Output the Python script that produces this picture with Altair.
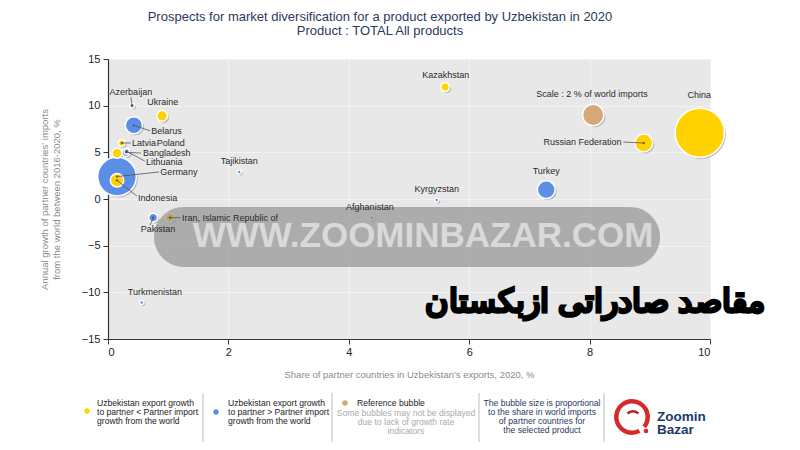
import altair as alt
import pandas as pd

# ---------------- data ----------------
countries = ["China", "Germany", "Russian Federation", "Turkey", "Belarus", "Indonesia",
             "Kazakhstan", "Ukraine", "Poland", "Pakistan", "Iran, Islamic Republic of",
             "Latvia", "Bangladesh", "Lithuania", "Azerbaijan", "Tajikistan", "Kyrgyzstan",
             "Afghanistan", "Turkmenistan", "Scale : 2 % of world imports"]
export_share = [9.83, 0.15, 8.9, 7.28, 0.43, 0.15, 5.6, 0.9, 0.15, 0.75, 1.03,
                0.23, 0.3, 0.31, 0.4, 2.18, 5.46, 4.38, 0.56, 8.06]
import_growth = [7.1, 2.4, 6.0, 1.0, 7.9, 2.0, 12.0, 8.9, 4.9, -2.0, -2.0,
                 6.0, 5.0, 5.1, 10.0, 2.9, -0.1, -2.0, -11.1, 9.0]
world_share = [10.7, 6.6, 1.4, 1.4, 1.3, 0.8, 0.35, 0.5, 0.45, 0.35, 0.35,
               0.2, 0.3, 0.12, 0.1, 0.07, 0.07, 0.07, 0.07, 2.0]
group = ["lt", "gt", "lt", "gt", "gt", "lt", "lt", "lt", "lt", "gt", "lt",
         "lt", "gt", "gt", "gt", "gt", "gt", "gt", "gt", "ref"]
label_x = [9.82, 0.87, 8.53, 7.28, 0.72, 0.5, 5.61, 0.91, 0.81, 0.83, 1.23,
           0.40, 0.58, 0.63, 0.38, 2.18, 5.46, 4.35, 0.78, 8.04]
label_y = [11.1, 2.9, 6.1, 3.0, 7.3, 0.1, 13.3, 10.4, 6.0, -3.2, -2.0,
           6.0, 4.93, 3.96, 11.5, 4.07, 1.07, -0.86, -9.96, 11.25]
label_align = ["center", "left", "right", "center", "left", "left", "center", "center",
               "left", "center", "left", "left", "left", "left", "center", "center",
               "center", "center", "center", "center"]
lead_x = [None, 0.85, 8.56, None, 0.70, 0.48, None, None, None, 0.70, 1.20,
          0.38, 0.55, 0.61, 0.38, None, None, None, None, None]
lead_y = [None, 2.9, 6.1, None, 7.3, 0.32, None, None, None, -2.8, -2.0,
          6.0, 4.93, 4.07, 10.9, None, None, None, None, None]

x_ticks = [0, 2, 4, 6, 8, 10]
y_ticks = [-15, -10, -5, 0, 5, 10, 15]

df = pd.DataFrame({
    "country": countries, "x": export_share, "y": import_growth, "s": world_share,
    "g": group, "lx": label_x, "ly": label_y, "align": label_align,
    "ex": lead_x, "ey": lead_y,
})

FONT = "Liberation Sans"
YELLOW, BLUE, TAN = "#FFD200", "#5B8FE6", "#D6A878"
NAVY = "#1F3864"

xs = alt.Scale(domain=[0, 10], nice=False)
ys = alt.Scale(domain=[-15, 15], nice=False)
size_scale = alt.Scale(type="linear", domain=[0, 12], range=[0, 2714])
color_scale = alt.Scale(domain=["lt", "gt", "ref"], range=[YELLOW, BLUE, TAN])

base = alt.Chart(df)

xenc = alt.X("x:Q", scale=xs, axis=alt.Axis(
    values=x_ticks, format="d",
    title="Share of partner countries in Uzbekistan's exports, 2020, %", grid=True))
yenc = alt.Y("y:Q", scale=ys, axis=alt.Axis(
    values=y_ticks, format="d",
    title=["Annual growth of partner countries' imports",
           "from the world between 2016-2020, %"], grid=True))

shadow = base.mark_circle(color="#8a8a8a", opacity=0.55, xOffset=1.5, yOffset=1.5).encode(
    x=xenc, y=yenc,
    size=alt.Size("s:Q", scale=size_scale, legend=None),
    order=alt.Order("s:Q", sort="descending"),
)
bubbles = base.mark_circle(opacity=1, stroke="white", strokeWidth=1.5).encode(
    x="x:Q", y="y:Q",
    size=alt.Size("s:Q", scale=size_scale, legend=None),
    color=alt.Color("g:N", scale=color_scale, legend=None),
    order=alt.Order("s:Q", sort="descending"),
)
leaders = base.transform_filter("datum.ex != null").mark_rule(
    color="#555555", strokeWidth=0.8).encode(
    x="x:Q", y="y:Q", x2="ex:Q", y2="ey:Q")
centers = base.transform_filter("datum.ex != null").mark_circle(
    color="#555555", size=5, opacity=1).encode(x="x:Q", y="y:Q")


def labels(al):
    return base.transform_filter(f"datum.align == '{al}'").mark_text(
        align=al, baseline="middle", font=FONT, fontSize=9, color="#2a2a2a").encode(
        x="lx:Q", y="ly:Q", text="country:N")


one = pd.DataFrame({"k": [0]})


def deco_text(txt, x, y, **kw):
    return alt.Chart(one).mark_text(text=txt, font=FONT, **kw).encode(
        x=alt.value(x), y=alt.value(y))


# watermark band
band = alt.Chart(one).mark_rect(color="#8c8c8c", opacity=0.65, cornerRadius=30).encode(
    x=alt.value(46), x2=alt.value(552), y=alt.value(148), y2=alt.value(208))
band_text = deco_text("WWW.ZOOMINBAZAR.COM", 315, 177, fontSize=35, fontWeight="bold",
                      color="#d9d9d9", align="center", baseline="middle")
persian = deco_text("مقاصد صادراتی ازبکستان", 657, 243, fontSize=32, fontWeight="bold",
                    color="#000000", stroke="#000000", strokeWidth=2.2,
                    align="right", baseline="middle")

# bottom legend
LH = 9.3
leg_fs = 8.6
leg = [
    alt.Chart(one).mark_circle(color=YELLOW, size=28, opacity=1).encode(
        x=alt.value(-21), y=alt.value(352)),
    deco_text(["Uzbekistan export growth", "to partner < Partner import",
               "growth from the world"], -11, 339.5, fontSize=leg_fs, lineHeight=LH,
              align="left", baseline="top", color="#222222"),
    alt.Chart(one).mark_circle(color=BLUE, size=28, opacity=1).encode(
        x=alt.value(108), y=alt.value(353)),
    deco_text(["Uzbekistan export growth", "to partner > Partner import",
               "growth from the world"], 120, 339.5, fontSize=leg_fs, lineHeight=LH,
              align="left", baseline="top", color="#222222"),
    alt.Chart(one).mark_circle(color=TAN, size=30, opacity=1).encode(
        x=alt.value(237), y=alt.value(344)),
    deco_text("Reference bubble", 249, 339.5, fontSize=leg_fs, align="left",
              baseline="top", color="#222222"),
    deco_text(["Some bubbles may not be displayed", "due to lack of growth rate",
               "indicators"], 298, 349.5, fontSize=leg_fs, lineHeight=LH,
              align="center", baseline="top", color="#aaaaaa"),
    deco_text(["The bubble size is proportional", "to the share in world imports",
               "of partner countries for", "the selected product"], 434, 339.5,
              fontSize=leg_fs, lineHeight=LH, align="center", baseline="top", color=NAVY),
]
for xv in [95, 224, 371, 496]:
    leg.append(alt.Chart(one).mark_rule(color="#bdbdbd", strokeWidth=1).encode(
        x=alt.value(xv), y=alt.value(334), y2=alt.value(383)))

# logo
logo = [
    alt.Chart(one).mark_arc(radius=18, radius2=13.5, theta=2.65, theta2=8.53,
                            color="#D42A2A").encode(x=alt.value(524), y=alt.value(358)),
    alt.Chart(one).mark_arc(radius=9, radius2=6.5, theta=5.5, theta2=7.06,
                            color="#B82020").encode(x=alt.value(525), y=alt.value(360)),
    alt.Chart(one).mark_circle(color="#D42A2A", size=22, opacity=1).encode(
        x=alt.value(538), y=alt.value(372)),
    deco_text("Zoomin", 549, 362, fontSize=13.5, fontWeight="bold", color="#1B3A6B",
              align="left", baseline="alphabetic"),
    deco_text("Bazar", 549, 375, fontSize=13.5, fontWeight="bold", color="#1B3A6B",
              align="left", baseline="alphabetic"),
]

chart = alt.layer(
    shadow, bubbles, band, leaders, centers,
    labels("left"), labels("center"), labels("right"),
    band_text, persian, *leg, *logo,
).properties(
    width=602, height=280,
    autosize=alt.AutoSizeParams(type="none"),
    padding={"left": 108, "top": 59, "right": 90, "bottom": 111},
    title=alt.TitleParams(
        text="Prospects for market diversification for a product exported by Uzbekistan in 2020",
        subtitle="Product : TOTAL All products",
        anchor="middle", dx=-29, offset=15, font=FONT, fontSize=13, fontWeight="normal",
        color="#2B3A5C", subtitleFont=FONT, subtitleFontSize=13, subtitleColor="#2B3A5C",
        subtitlePadding=1),
).configure_view(
    fill="#e8e8e8", stroke="#d6d6d6", strokeWidth=1,
).configure_axis(
    domainColor="#333333", domainWidth=1.2, tickColor="#333333", tickSize=5,
    labelFont=FONT, labelFontSize=11, labelColor="#222222",
    titleFont=FONT, titleFontSize=9.5, titleColor="#8a8a8a", titleFontWeight="normal",
    gridColor="#f3f3f3", gridWidth=1,
).configure_axisX(
    labelPadding=2, titlePadding=12,
).configure_axisY(
    labelPadding=3, titlePadding=20, titleLineHeight=12,
)

chart.save("out.html", embed_options={"renderer": "svg", "actions": False})
